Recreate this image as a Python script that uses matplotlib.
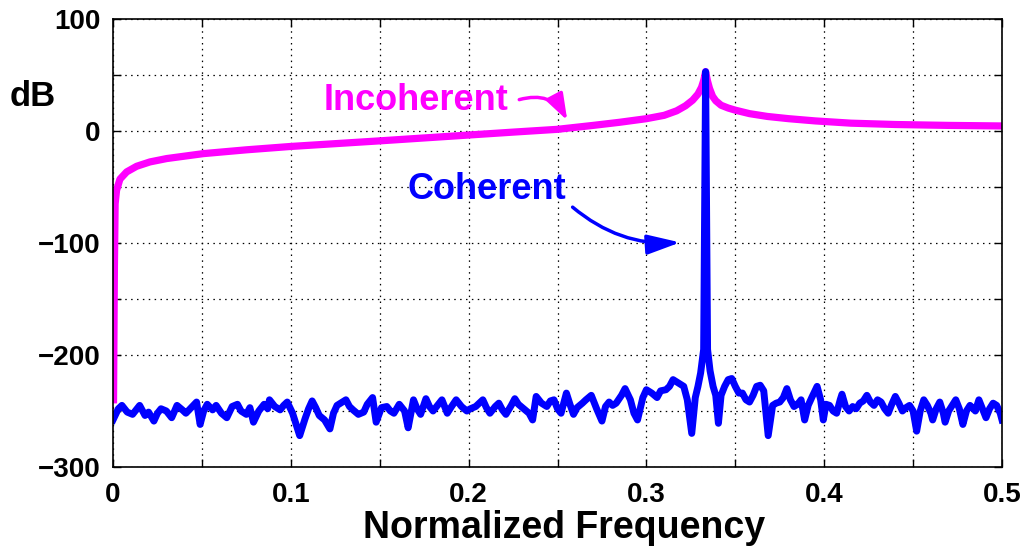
import matplotlib
matplotlib.use('Agg')
import matplotlib.pyplot as plt
from matplotlib.patches import FancyArrowPatch
from matplotlib import font_manager

# ---------------- data ----------------
inc_x = [0.0003, 0.0008, 0.0012, 0.0020, 0.0039, 0.0077, 0.0133, 0.0208, 0.0302, 0.0508,
         0.075, 0.100, 0.125, 0.150, 0.175, 0.200, 0.225, 0.250, 0.270, 0.285,
         0.300, 0.310, 0.317, 0.322, 0.326, 0.329, 0.331, 0.3323, 0.3333, 0.3343,
         0.3355, 0.3372, 0.3390, 0.3420, 0.3460, 0.3500, 0.3580, 0.3680, 0.3800, 0.3950,
         0.4150, 0.4400, 0.4700, 0.5000]
inc_y = [-240, -120, -65, -53, -43, -36.5, -31.5, -27.6, -24.6, -20.2,
         -16.8, -13.8, -11.3, -8.8, -6.2, -3.6, -1.0, 1.5, 5.0, 7.8,
         11.0, 14.0, 18.0, 22.5, 27.5, 33.0, 39.0, 45.5, 53.0, 45.0,
         38.0, 31.0, 27.0, 23.0, 20.5, 18.6, 15.5, 13.0, 11.0, 9.0,
         7.0, 5.8, 5.0, 4.5]

coh_x = [0.000, 0.003, 0.005, 0.008, 0.011, 0.013, 0.015, 0.018, 0.020, 0.023,
         0.025, 0.027, 0.030, 0.033, 0.036, 0.039, 0.041, 0.044, 0.047, 0.049,
         0.051, 0.053, 0.056, 0.058, 0.061, 0.064, 0.067, 0.070, 0.072, 0.075,
         0.077, 0.079, 0.082, 0.085, 0.087, 0.088, 0.091, 0.094, 0.096, 0.098,
         0.101, 0.103, 0.105, 0.108, 0.110, 0.112, 0.114, 0.116, 0.119, 0.122,
         0.124, 0.126, 0.128, 0.131, 0.133, 0.135, 0.138, 0.141, 0.143, 0.146,
         0.148, 0.151, 0.154, 0.156, 0.158, 0.161, 0.164, 0.166, 0.169, 0.171,
         0.173, 0.176, 0.178, 0.180, 0.183, 0.185, 0.188, 0.190, 0.193, 0.196,
         0.199, 0.201, 0.204, 0.206, 0.208, 0.210, 0.212, 0.215, 0.217, 0.219,
         0.221, 0.224, 0.226, 0.228, 0.231, 0.234, 0.236, 0.238, 0.241, 0.244,
         0.246, 0.248, 0.250, 0.252, 0.255, 0.257, 0.259, 0.261, 0.264, 0.266,
         0.269, 0.272, 0.275, 0.277, 0.279, 0.281, 0.283, 0.286, 0.288, 0.291,
         0.293, 0.295, 0.298, 0.300, 0.303, 0.306, 0.308, 0.311, 0.313, 0.315,
         0.317, 0.319, 0.321, 0.323, 0.3255, 0.3275, 0.329, 0.3305, 0.3322, 0.3333,
         0.3344, 0.3358, 0.3375, 0.3390, 0.3405, 0.342, 0.344, 0.346, 0.348, 0.350,
         0.352, 0.354, 0.356, 0.358, 0.360, 0.362, 0.364, 0.366, 0.3685, 0.371,
         0.373, 0.375, 0.377, 0.379, 0.381, 0.383, 0.385, 0.387, 0.389, 0.391,
         0.393, 0.396, 0.398, 0.3995, 0.401, 0.403, 0.405, 0.407, 0.409, 0.410,
         0.412, 0.414, 0.416, 0.418, 0.420, 0.422, 0.424, 0.426, 0.428, 0.430,
         0.432, 0.434, 0.436, 0.438, 0.440, 0.442, 0.444, 0.446, 0.448, 0.450,
         0.452, 0.454, 0.456, 0.458, 0.460, 0.461, 0.463, 0.465, 0.467, 0.468,
         0.470, 0.472, 0.474, 0.476, 0.478, 0.480, 0.482, 0.484, 0.485, 0.487,
         0.489, 0.491, 0.493, 0.495, 0.497, 0.499, 0.500]
coh_y = [-258, -248, -245, -251, -253, -249, -245, -254, -251, -259,
         -252, -248, -250, -256, -245, -249, -252, -247, -242, -262,
         -250, -244, -249, -245, -252, -256, -246, -244, -250, -253,
         -247, -260, -250, -244, -248, -240, -246, -249, -245, -242,
         -252, -262, -272, -257, -248, -241, -247, -254, -258, -266,
         -252, -245, -243, -240, -246, -249, -253, -251, -244, -238,
         -260, -247, -246, -250, -252, -244, -250, -265, -240, -248,
         -253, -239, -246, -250, -244, -240, -252, -247, -240, -246,
         -250, -248, -246, -243, -240, -247, -252, -246, -243, -249,
         -253, -245, -239, -244, -248, -252, -258, -237, -243, -246,
         -241, -240, -248, -252, -234, -244, -253, -247, -243, -240,
         -236, -248, -259, -246, -242, -245, -243, -236, -230, -240,
         -252, -258, -238, -231, -234, -238, -232, -231, -228, -222,
         -224, -226, -228, -240, -270, -238, -228, -216, -195, 53,
         -195, -214, -228, -236, -261, -236, -228, -222, -221, -228,
         -234, -234, -240, -242, -236, -228, -227, -232, -272, -245,
         -243, -242, -238, -230, -240, -246, -244, -240, -258, -245,
         -238, -228, -240, -258, -244, -245, -250, -252, -240, -235,
         -246, -250, -246, -248, -243, -241, -236, -242, -245, -240,
         -242, -248, -252, -244, -237, -243, -250, -247, -245, -250,
         -268, -250, -240, -245, -252, -258, -248, -242, -252, -260,
         -250, -245, -240, -248, -262, -250, -245, -248, -250, -240,
         -248, -256, -248, -243, -245, -252, -258]

xtick_vals = [0.0, 0.05, 0.1, 0.15, 0.2, 0.25, 0.3, 0.35, 0.4, 0.45, 0.5]
xtick_labels = ['0', '', '0.1', '', '0.2', '', '0.3', '', '0.4', '', '0.5']
ytick_vals = [-300, -250, -200, -150, -100, -50, 0, 50, 100]
ytick_labels = ['\u2212300', '', '\u2212200', '', '\u2212100', '', '0', '', '100']

# ---------------- style ----------------
plt.rcParams['font.family'] = ['Liberation Sans', 'DejaVu Sans']
plt.rcParams['font.weight'] = 'bold'

installed = {f.name for f in font_manager.fontManager.ttflist}
narrow = 'Liberation Sans Narrow' if 'Liberation Sans Narrow' in installed else 'Liberation Sans'

MAG = '#ff00ff'
BLU = '#0000ff'

fig = plt.figure(figsize=(10.26, 5.52), dpi=100)
ax = fig.add_axes([113 / 1026, 1 - 467 / 552, 889 / 1026, 448 / 552])

ax.plot(inc_x, inc_y, color=MAG, lw=5.2, zorder=3)
ax.plot(coh_x, coh_y, color=BLU, lw=5.0, zorder=4)

ax.set_xlim(0, 0.5)
ax.set_ylim(-300, 100)
ax.set_xticks(xtick_vals)
ax.set_xticklabels(xtick_labels, fontsize=20, fontweight='bold', family=[narrow, 'DejaVu Sans'])
ax.set_yticks(ytick_vals)
ax.set_yticklabels(ytick_labels, fontsize=20, fontweight='bold')
ax.tick_params(direction='in', length=6, width=1, top=True, right=True, colors='black')
ax.tick_params(axis='x', pad=11)
ax.tick_params(axis='y', pad=9)
ax.grid(True, color='black', linestyle=(0, (1.2, 3.5)), linewidth=0.9)
ax.set_axisbelow(True)
for s in ax.spines.values():
    s.set_linewidth(1.2)
    s.set_zorder(5)

# annotations
ax.text(0.1704, 27.0, 'Incoherent', color=MAG, fontsize=26, fontweight='bold',
        ha='center', va='center', zorder=6)
ax.text(0.2105, -52.0, 'Coherent', color=BLU, fontsize=26, fontweight='bold',
        ha='center', va='center', zorder=6)

arr1 = FancyArrowPatch(posA=(0.2285, 28.0), posB=(0.2555, 9.5),
                       arrowstyle='-|>,head_length=0.8,head_width=0.28',
                       mutation_scale=20, connectionstyle='arc3,rad=-0.4',
                       color=MAG, lw=2.5, shrinkA=0, shrinkB=0, zorder=6)
ax.add_patch(arr1)
arr2 = FancyArrowPatch(posA=(0.2585, -68.0), posB=(0.3190, -99.5),
                       arrowstyle='-|>,head_length=1.0,head_width=0.3',
                       mutation_scale=20, connectionstyle='arc3,rad=0.2',
                       color=BLU, lw=2.5, shrinkA=0, shrinkB=0, zorder=6)
ax.add_patch(arr2)

fig.text(33 / 1026, 1 - 97 / 552, 'dB', fontsize=25, fontweight='bold',
         ha='center', va='center')
fig.text(564 / 1026, 1 - 528 / 552, 'Normalized Frequency', fontsize=27,
         fontweight='bold', ha='center', va='center')

fig.savefig('out.png', dpi=100)
